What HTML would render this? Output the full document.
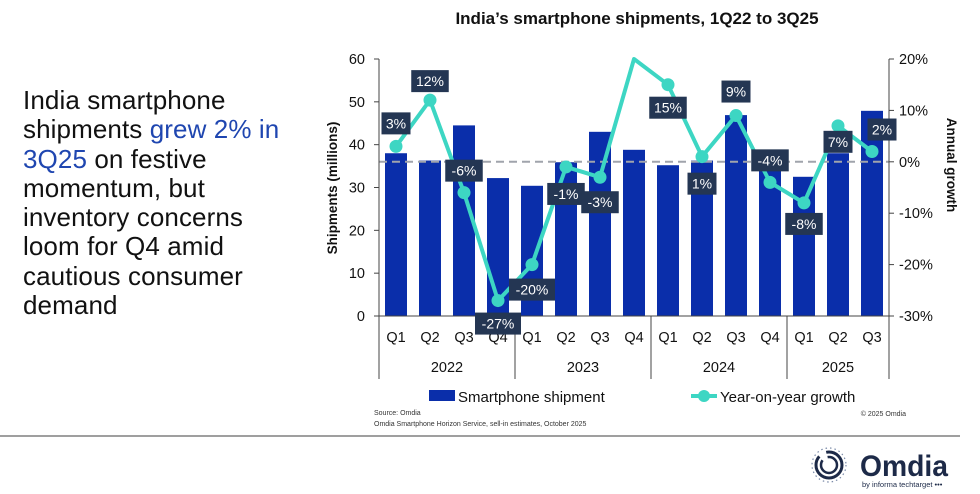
<!DOCTYPE html>
<html><head><meta charset="utf-8">
<style>
html,body{margin:0;padding:0;background:#fff;}
body{width:980px;height:494px;position:relative;overflow:hidden;font-family:"Liberation Sans",sans-serif;}
#headline{position:absolute;left:23px;top:86px;width:320px;font-size:26px;line-height:29.3px;color:#111;letter-spacing:0.1px;white-space:nowrap;}
#headline .hl{color:#1f46b0;}
svg{position:absolute;left:0;top:0;}
</style></head>
<body>
<div id="headline">India smartphone<br>shipments <span class="hl">grew 2% in<br>3Q25</span> on festive<br>momentum, but<br>inventory concerns<br>loom for Q4 amid<br>cautious consumer<br>demand</div>
<svg id="chart" width="980" height="494" font-family="Liberation Sans, sans-serif"></svg>
<script>
const quarters = ["Q1","Q2","Q3","Q4","Q1","Q2","Q3","Q4","Q1","Q2","Q3","Q4","Q1","Q2","Q3"];
const years = ["2022","2023","2024","2025"];
const yearSpans = [4,4,4,3];
const shipments = [38.0,36.3,44.5,32.2,30.4,35.9,43.0,38.8,35.2,36.3,46.9,37.2,32.5,38.0,47.9];
const growth = [3,12,-6,-27,-20,-1,-3,20,15,1,9,-4,-8,7,2];
const growthLabels = ["3%","12%","-6%","-27%","-20%","-1%","-3%","","15%","1%","9%","-4%","-8%","7%","2%"];
const leftTicks = [0,10,20,30,40,50,60];
const rightTicks = [-30,-20,-10,0,10,20];

const NS="http://www.w3.org/2000/svg";
const svg=document.getElementById('chart');
function mk(tag,attrs,parent){const e=document.createElementNS(NS,tag);for(const k in attrs)e.setAttribute(k,attrs[k]);(parent||svg).appendChild(e);return e;}
const X0=379,X1=889,Y0=316,Y1=59;
const slot=(X1-X0)/quarters.length;
const xc=i=>X0+slot*(i+0.5);
const yL=v=>Y0-(v/60)*(Y0-Y1);
const yR=v=>Y0-((v+30)/50)*(Y0-Y1);
const labelDy=[-23,-19,-22,23,25,27,25,0,23,27,-24,-22,21,16,-22];
const labelDx=[0,0,0,0,0,0,0,0,0,0,0,0,0,0,10];

let t=mk('text',{x:637,y:24,'text-anchor':'middle','font-size':17,'font-weight':'bold',fill:'#111'});
t.textContent="India’s smartphone shipments, 1Q22 to 3Q25";



shipments.forEach((v,i)=>{
  const r=mk('rect',{x:xc(i)-11,y:yL(v),width:22,height:Y0-yL(v),fill:'#0a2eaa'});
  
  
});
let dz=mk('line',{x1:X0,x2:X1,y1:yR(0),y2:yR(0),stroke:'#a0a4ac','stroke-width':2,'stroke-dasharray':'8,5'});



let al=mk('line',{x1:X0,x2:X0,y1:Y1,y2:Y0,stroke:'#444','stroke-width':1});


let ar=mk('line',{x1:X1,x2:X1,y1:Y1,y2:Y0,stroke:'#444','stroke-width':1});


let ab=mk('line',{x1:X0,x2:X1,y1:Y0,y2:Y0,stroke:'#444','stroke-width':1});



leftTicks.forEach(v=>{
  mk('line',{x1:X0-5,x2:X0,y1:yL(v),y2:yL(v),stroke:'#444'});
  const tx=mk('text',{x:X0-14,y:yL(v)+5,'text-anchor':'end','font-size':14.5,fill:'#111'});
  tx.textContent=v;
  
  
});
rightTicks.forEach(v=>{
  mk('line',{x1:X1,x2:X1+5,y1:yR(v),y2:yR(v),stroke:'#444'});
  const tx=mk('text',{x:X1+10,y:yR(v)+5,'font-size':14.5,fill:'#111'});
  tx.textContent=v+'%';
  
  
});
let yt=mk('text',{transform:'translate(337,188) rotate(-90)','text-anchor':'middle','font-size':13.5,'font-weight':'bold',fill:'#111'});
yt.textContent="Shipments (millions)";


let yt2=mk('text',{transform:'translate(947,165) rotate(90)','text-anchor':'middle','font-size':13.5,'font-weight':'bold',fill:'#111'});
yt2.textContent="Annual growth";



quarters.forEach((q,i)=>{
  const tx=mk('text',{x:xc(i),y:342,'text-anchor':'middle','font-size':14.5,fill:'#111'});
  tx.textContent=q;
  
  
});
let start=0;
mk('line',{x1:X0,x2:X0,y1:Y0,y2:379,stroke:'#444'});
years.forEach((yv,k)=>{
  const end=start+yearSpans[k];
  const xa=X0+slot*start, xb=X0+slot*end;
  const sep=mk('line',{x1:xb,x2:xb,y1:Y0,y2:379,stroke:'#444'});
  
  
  const tx=mk('text',{x:(xa+xb)/2,y:372,'text-anchor':'middle','font-size':14.5,fill:'#111'});
  tx.textContent=yv;
  
  
  start=end;
});

const pts=growth.map((g,i)=>xc(i)+','+yR(Math.min(g,20))).join(' ');
let pl=mk('polyline',{points:pts,fill:'none',stroke:'#3dd6c3','stroke-width':4,'stroke-linejoin':'round'});


growth.forEach((g,i)=>{
  if(g>=20) return;
  const c=mk('circle',{cx:xc(i),cy:yR(g),r:6.5,fill:'#3dd6c3'});
  
  
});
growthLabels.forEach((lab,i)=>{
  if(!lab) return;
  const cx=xc(i)+labelDx[i], cy=yR(Math.min(growth[i],20))+labelDy[i];
  const w=lab.length*8.5+12;
  const g=mk('g',{});
  
  
  mk('rect',{x:cx-w/2,y:cy-11,width:w,height:22,fill:'#243653'},g);
  const tx=mk('text',{x:cx,y:cy+5,'text-anchor':'middle','font-size':14,fill:'#fff'},g);
  tx.textContent=lab;
});

let lg=mk('g',{});


mk('rect',{x:429,y:390,width:26,height:11,fill:'#0a2eaa'},lg);
let l1=mk('text',{x:458,y:402,'font-size':15,fill:'#111'},lg);l1.textContent="Smartphone shipment";
mk('line',{x1:691,x2:717,y1:396,y2:396,stroke:'#3dd6c3','stroke-width':4},lg);
mk('circle',{cx:704,cy:396,r:6,fill:'#3dd6c3'},lg);
let l2=mk('text',{x:720,y:402,'font-size':15,fill:'#111'},lg);l2.textContent="Year-on-year growth";

let s1=mk('text',{x:374,y:415,'font-size':7,fill:'#333'});s1.textContent="Source: Omdia";

let s2=mk('text',{x:374,y:426,'font-size':7,fill:'#333'});s2.textContent="Omdia Smartphone Horizon Service, sell-in estimates, October 2025";

let s3=mk('text',{x:906,y:416,'font-size':7,fill:'#333','text-anchor':'end'});s3.textContent="© 2025 Omdia";

let hr=mk('line',{x1:0,x2:960,y1:436,y2:436,stroke:'#666','stroke-width':1.2});


let lo=mk('g',{});


mk('circle',{cx:829,cy:465,r:13,fill:'none',stroke:'#1d2a48','stroke-width':3,'stroke-dasharray':'50,8'},lo);
mk('circle',{cx:829,cy:465,r:8,fill:'none',stroke:'#1d2a48','stroke-width':2.5,'stroke-dasharray':'30,6'},lo);
mk('circle',{cx:829,cy:465,r:17,fill:'none',stroke:'#7a8aa8','stroke-width':1.2,'stroke-dasharray':'1.5,3'},lo);
let om=mk('text',{x:860,y:476,'font-size':30,'font-weight':'bold',fill:'#1d2a48',textLength:88,lengthAdjust:'spacingAndGlyphs'},lo);om.textContent="Omdia";
let by=mk('text',{x:862,y:487,'font-size':7.5,fill:'#1d2a48'},lo);by.textContent="by informa techtarget •••";
</script>
</body></html>
